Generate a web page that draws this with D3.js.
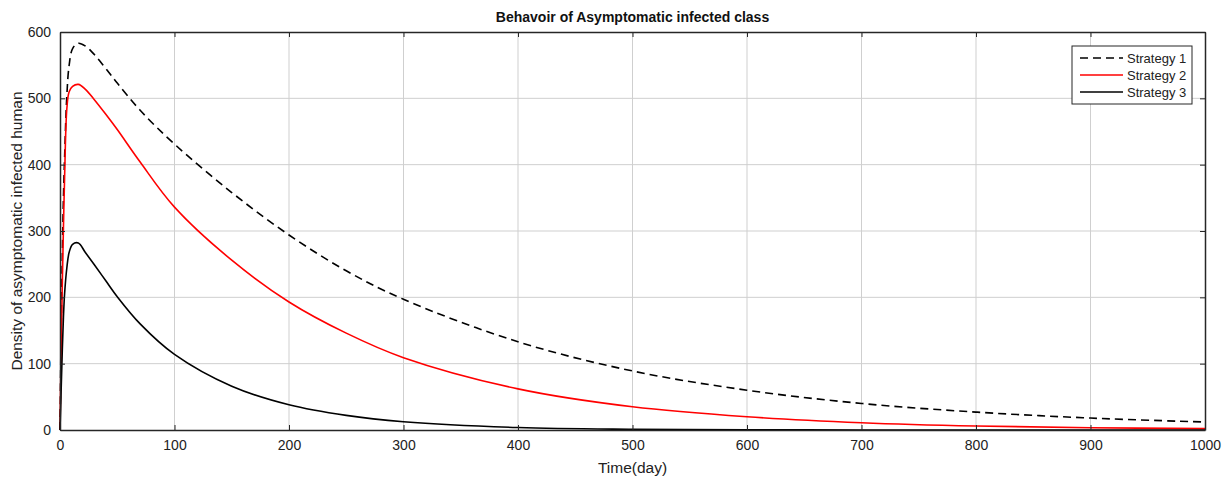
<!DOCTYPE html>
<html>
<head>
<meta charset="utf-8">
<script src="https://cdn.jsdelivr.net/npm/d3@7"></script>
<style>
  body { margin: 0; background: #fff; }
  svg { font-family: "Liberation Sans", Arial, sans-serif; }
</style>
</head>
<body>
<svg id="chart" width="1232" height="481"></svg>
<script>
// Data
var days = [0, 1, 2, 3, 4, 6, 8, 11, 16, 22, 30, 40, 50, 70, 100, 150, 200, 250, 300, 400, 500, 600, 700, 800, 900, 1000];
var strategy1 = [0, 150, 260, 350, 410, 505, 550, 575, 583, 579, 566, 545, 523, 482, 431, 358, 294, 240, 197, 133, 89, 60, 40, 27, 18, 12];
var strategy2 = [0, 120, 220, 305, 380, 485, 510, 518, 521, 514, 498, 476, 453, 404, 336, 256, 193, 146, 109, 62, 35, 20, 11, 6, 3.5, 2];
var strategy3 = [0, 60, 120, 170, 205, 245, 268, 280, 282, 268, 249, 225, 201, 160, 114, 66, 38, 22, 12.5, 3.7, 1, 0.3, 0.1, 0.05, 0, 0];
var xTicks = [0, 100, 200, 300, 400, 500, 600, 700, 800, 900, 1000];
var yTicks = [0, 100, 200, 300, 400, 500, 600];

var series = [
  { name: "Strategy 1", values: strategy1, color: "#000", dash: "8,5" },
  { name: "Strategy 2", values: strategy2, color: "#ff0000", dash: null },
  { name: "Strategy 3", values: strategy3, color: "#000", dash: null }
];

// Define margins
var margin = { top: 32, right: 27, bottom: 51, left: 60 },
    width = 1232 - margin.left - margin.right,
    height = 481 - margin.top - margin.bottom;

var svg = d3.select("#chart");
var g = svg.append("g")
    .attr("transform", "translate(" + margin.left + "," + margin.top + ")");

var x = d3.scaleLinear().domain([0, 1000]).range([0, width]);
var y = d3.scaleLinear().domain([0, 600]).range([height, 0]);

// Grid
g.append("g").selectAll("line")
    .data(xTicks.slice(1, -1))
    .enter().append("line")
    .attr("x1", d => x(d)).attr("x2", d => x(d))
    .attr("y1", 0).attr("y2", height)
    .attr("stroke", "#cfcfcf").attr("stroke-width", 1);
g.append("g").selectAll("line")
    .data(yTicks.slice(1, -1))
    .enter().append("line")
    .attr("y1", d => y(d)).attr("y2", d => y(d))
    .attr("x1", 0).attr("x2", width)
    .attr("stroke", "#cfcfcf").attr("stroke-width", 1);

// Lines
var line = d3.line()
    .x(d => x(d[0]))
    .y(d => y(d[1]))
    .curve(d3.curveCatmullRom.alpha(0.5));

series.forEach(function(s) {
  g.append("path")
    .datum(days.map((d, i) => [d, s.values[i]]))
    .attr("fill", "none")
    .attr("stroke", s.color)
    .attr("stroke-width", 1.6)
    .attr("stroke-dasharray", s.dash)
    .attr("d", line);
});

// Axes (MATLAB-style box with inward ticks)
var axisColor = "#262626";
var fmt = d3.format("d");
var xBottom = g.append("g")
    .attr("transform", "translate(0," + height + ")")
    .call(d3.axisBottom(x).tickValues(xTicks).tickFormat(fmt).tickSizeInner(-5).tickSizeOuter(0).tickPadding(10));
var xTop = g.append("g")
    .call(d3.axisTop(x).tickValues(xTicks).tickSizeInner(-5).tickSizeOuter(0).tickFormat(""));
var yLeft = g.append("g")
    .call(d3.axisLeft(y).tickValues(yTicks).tickFormat(fmt).tickSizeInner(-5).tickSizeOuter(0).tickPadding(9));
var yRight = g.append("g")
    .attr("transform", "translate(" + width + ",0)")
    .call(d3.axisRight(y).tickValues(yTicks).tickSizeInner(-5).tickSizeOuter(0).tickFormat(""));

[xBottom, xTop, yLeft, yRight].forEach(function(a) {
  a.select(".domain").attr("stroke", axisColor).attr("stroke-width", 1.5);
  a.selectAll(".tick line").attr("stroke", axisColor).attr("stroke-width", 1);
  a.selectAll(".tick text")
    .attr("fill", "#222")
    .style("font-size", "14px");
});

// Title and axis labels
svg.append("text")
    .attr("x", margin.left + width / 2)
    .attr("y", 22)
    .attr("text-anchor", "middle")
    .style("font-size", "14px")
    .style("font-weight", "bold")
    .attr("fill", "#111")
    .text("Behavoir of Asymptomatic infected class");

svg.append("text")
    .attr("x", margin.left + width / 2)
    .attr("y", 473)
    .attr("text-anchor", "middle")
    .style("font-size", "15.5px")
    .attr("fill", "#222")
    .text("Time(day)");

svg.append("text")
    .attr("transform", "translate(22," + (margin.top + height / 2) + ") rotate(-90)")
    .attr("text-anchor", "middle")
    .style("font-size", "15.5px")
    .attr("fill", "#222")
    .text("Density of asymptomatic infected human");

// Legend
var legend = svg.append("g").attr("transform", "translate(1072,46)");
legend.append("rect")
    .attr("width", 120).attr("height", 58)
    .attr("fill", "#fff")
    .attr("stroke", axisColor).attr("stroke-width", 1);

var rows = legend.selectAll(".row")
    .data(series)
    .enter().append("g")
    .attr("transform", (d, i) => "translate(0," + (12 + i * 17) + ")");
rows.append("line")
    .attr("x1", 8).attr("x2", 51)
    .attr("stroke", d => d.color)
    .attr("stroke-width", 1.5)
    .attr("stroke-dasharray", d => d.dash);
rows.append("text")
    .attr("x", 55)
    .attr("dy", "0.35em")
    .style("font-size", "13px")
    .attr("fill", "#222")
    .text(d => d.name);
</script>
</body>
</html>
